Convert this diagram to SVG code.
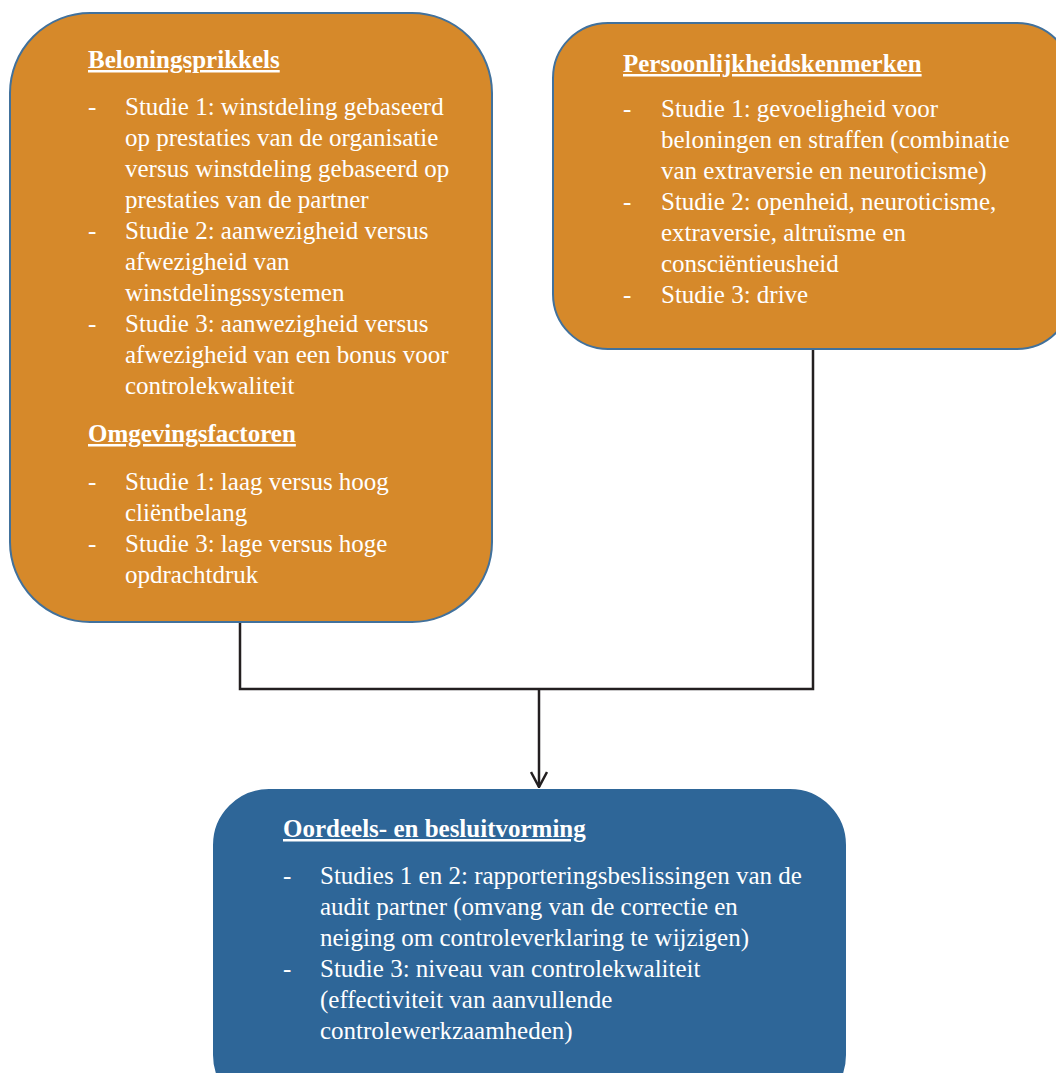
<svg xmlns="http://www.w3.org/2000/svg" width="1056" height="1073" viewBox="0 0 1056 1073">
  <style>
    .orange { fill: #D6892A; stroke: #41719C; stroke-width: 2; }
    .blue { fill: #2E6698; stroke: #2E6698; stroke-width: 2; }
    text { font-family: "Liberation Serif", "Times New Roman", serif; font-size: 25px; fill: #FFFFFF; }
    .head { font-weight: bold; text-decoration: underline; }
    .conn { fill: none; stroke: #231F20; stroke-width: 2.5; }
  </style>
  <defs>
    <marker id="arrow" viewBox="0 0 18 18" refX="17" refY="9" markerWidth="18" markerHeight="18" markerUnits="userSpaceOnUse" orient="auto">
      <path d="M2,1 L17,9 L2,17" fill="none" stroke="#231F20" stroke-width="2.5"/>
    </marker>
  </defs>
  <rect width="1056" height="1073" fill="#FFFFFF"/>

  <g id="connectors">
    <path class="conn" d="M240,623 V689 H539"/>
    <path class="conn" d="M813,350 V689 H539"/>
    <path class="conn" d="M539,689 V787" marker-end="url(#arrow)"/>
  </g>

  <g id="beloningsprikkels">
    <rect class="orange" x="10" y="13" width="482" height="609" rx="80" ry="80"/>
    <text class="head" x="88" y="68">Beloningsprikkels</text>
    <text x="88" y="115">-</text>
    <text x="125" y="115">Studie 1: winstdeling gebaseerd</text>
    <text x="125" y="146">op prestaties van de organisatie</text>
    <text x="125" y="177">versus winstdeling gebaseerd op</text>
    <text x="125" y="208">prestaties van de partner</text>
    <text x="88" y="239">-</text>
    <text x="125" y="239">Studie 2: aanwezigheid versus</text>
    <text x="125" y="270">afwezigheid van</text>
    <text x="125" y="301">winstdelingssystemen</text>
    <text x="88" y="332">-</text>
    <text x="125" y="332">Studie 3: aanwezigheid versus</text>
    <text x="125" y="363">afwezigheid van een bonus voor</text>
    <text x="125" y="394">controlekwaliteit</text>
    <text class="head" x="88" y="442">Omgevingsfactoren</text>
    <text x="88" y="490">-</text>
    <text x="125" y="490">Studie 1: laag versus hoog</text>
    <text x="125" y="521">cliëntbelang</text>
    <text x="88" y="552">-</text>
    <text x="125" y="552">Studie 3: lage versus hoge</text>
    <text x="125" y="583">opdrachtdruk</text>
  </g>

  <g id="persoonlijkheidskenmerken">
    <rect class="orange" x="553" y="23" width="519" height="326" rx="55" ry="55"/>
    <text class="head" x="623" y="72">Persoonlijkheidskenmerken</text>
    <text x="623" y="117">-</text>
    <text x="661" y="117">Studie 1: gevoeligheid voor</text>
    <text x="661" y="148">beloningen en straffen (combinatie</text>
    <text x="661" y="179">van extraversie en neuroticisme)</text>
    <text x="623" y="210">-</text>
    <text x="661" y="210">Studie 2: openheid, neuroticisme,</text>
    <text x="661" y="241">extraversie, altruïsme en</text>
    <text x="661" y="272">consciëntieusheid</text>
    <text x="623" y="303">-</text>
    <text x="661" y="303">Studie 3: drive</text>
  </g>

  <g id="oordeelsvorming">
    <rect class="blue" x="214" y="790" width="631" height="320" rx="55" ry="55"/>
    <text class="head" x="283" y="837">Oordeels- en besluitvorming</text>
    <text x="283" y="884">-</text>
    <text x="320" y="884">Studies 1 en 2: rapporteringsbeslissingen van de</text>
    <text x="320" y="915">audit partner (omvang van de correctie en</text>
    <text x="320" y="946">neiging om controleverklaring te wijzigen)</text>
    <text x="283" y="977">-</text>
    <text x="320" y="977">Studie 3: niveau van controlekwaliteit</text>
    <text x="320" y="1008">(effectiviteit van aanvullende</text>
    <text x="320" y="1039">controlewerkzaamheden)</text>
  </g>
</svg>
